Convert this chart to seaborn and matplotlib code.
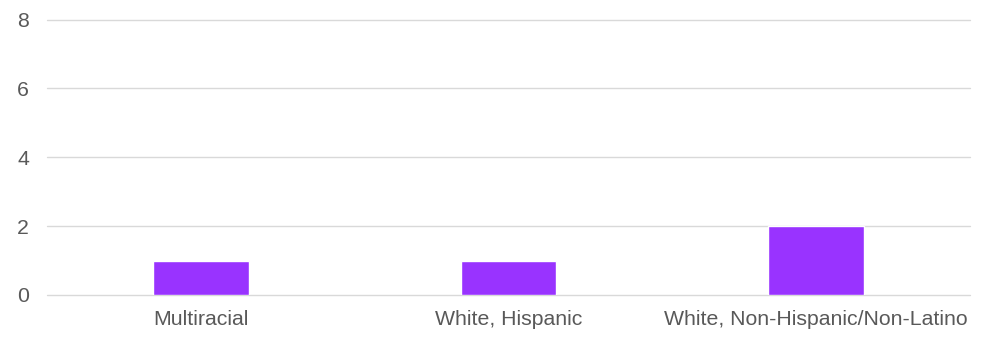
import matplotlib
matplotlib.use("Agg")
import matplotlib.pyplot as plt
import seaborn as sns
import pandas as pd

categories = ["Multiracial", "White, Hispanic", "White, Non-Hispanic/Non-Latino"]
counts = [1, 1, 2]
y_ticks = [0, 2, 4, 6, 8]

sns.set_theme(style="white")
plt.rcParams["font.family"] = ["Liberation Sans", "DejaVu Sans"]

df = pd.DataFrame({"category": categories, "count": counts})

fig = plt.figure(figsize=(9.85, 3.39), dpi=100)
ax = fig.add_axes([47 / 985, 1 - 295 / 339, 923 / 985, (295 - 19.5) / 339])

sns.barplot(data=df, x="category", y="count", color="#9933FF", saturation=1,
            width=0.312, ax=ax, zorder=3)

ax.set_ylim(0, 8)
ax.set_yticks(y_ticks)
ax.set_xlim(-0.5, len(categories) - 0.5)
ax.grid(axis="y", color="#d9d9d9", linewidth=1.0, zorder=0)
for gl in ax.get_ygridlines():
    gl.set_clip_on(False)
ax.set_axisbelow(True)
for s in ax.spines.values():
    s.set_visible(False)
ax.set_xlabel("")
ax.set_ylabel("")
ax.tick_params(axis="y", length=0, pad=21.5, labelsize=15.3, labelcolor="#595959")
ax.tick_params(axis="x", length=0, pad=11, labelsize=15.3, labelcolor="#595959")
for lbl in ax.get_yticklabels():
    lbl.set_horizontalalignment("left")

fig.savefig("out.png", dpi=100, facecolor="white")
